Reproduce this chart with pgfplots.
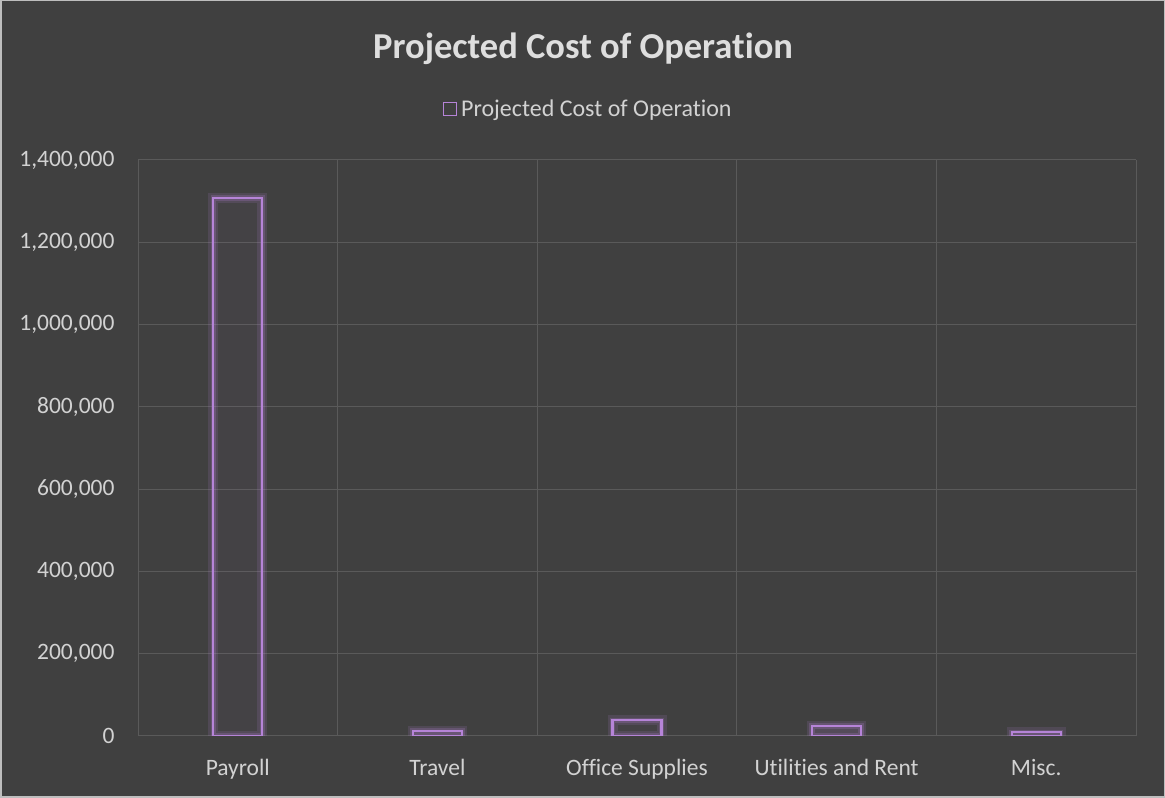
\documentclass[border=0pt]{standalone}
\usepackage{pgfplots}
\pgfplotsset{compat=1.18}
\usepackage{fontspec}
\setmainfont{Carlito}[Ligatures={NoCommon}]
\definecolor{bg}{RGB}{64,64,64}
\definecolor{gridc}{RGB}{90,90,90}
\definecolor{txt}{RGB}{210,210,210}
\definecolor{titc}{RGB}{222,222,222}
\definecolor{barc}{RGB}{182,132,216}
\definecolor{frame}{RGB}{190,190,190}
\begin{document}
\begin{tikzpicture}
\fill[bg] (0,0) rectangle (1165pt,798pt);
\draw[frame, line width=1.5pt] (0.75pt,0.75pt) rectangle (1164.25pt,797.25pt);
\useasboundingbox (0,0) rectangle (1165pt,798pt);
\begin{axis}[
  at={(138pt,62pt)}, anchor=south west,
  scale only axis, width=998pt, height=576pt,
  ymin=0, ymax=1400000,
  xmin=-0.5, xmax=4.5,
  ytick={0,200000,...,1400000},
  xtick={0,1,2,3,4},
  xticklabels={Payroll,Travel,Office Supplies,Utilities and Rent,Misc.},
  minor xtick={-0.5,0.5,1.5,2.5,3.5,4.5},
  ymajorgrids, xminorgrids,
  grid style={gridc, line width=1pt},
  minor grid style={gridc, line width=1pt},
  major tick length=0pt, minor tick length=0pt,
  axis line style={draw=none},
  scaled y ticks=false,
  /pgf/number format/.cd, fixed, 1000 sep={,}, assume math mode=true,
  /pgfplots/.cd,
  ticklabel style={font=\fontsize{23.5}{28}\selectfont, text=txt},
  yticklabel style={xshift=-20pt},
  xticklabel style={yshift=-20pt},
  title={Projected Cost of Operation},
  title style={at={(0.446,1.165)}, anchor=base, font=\fontsize{36.5}{42}\bfseries\selectfont, text=titc},
  legend style={at={(0.451,1.0885)}, anchor=center, draw=none, fill=none,
    font=\fontsize{24}{28}\selectfont, text=txt, legend columns=-1,
    /tikz/every odd column/.style={column sep=2pt}},
  ybar, bar width=49pt,
]
\addplot[forget plot, draw=barc, draw opacity=0.14, line width=10pt, fill=none]
  coordinates {(0,1308000) (1,12000) (2,38000) (3,24000) (4,9000)};
\addplot[forget plot, draw=barc, draw opacity=0.22, line width=5.5pt, fill=none]
  coordinates {(0,1308000) (1,12000) (2,38000) (3,24000) (4,9000)};
\addplot[draw=barc, line width=2.2pt, fill=barc, fill opacity=0.04,
  legend image code/.code={\draw[barc, line width=1.5pt, fill=none] (0pt,-6.5pt) rectangle (13pt,6.5pt);}]
  coordinates {(0,1308000) (1,12000) (2,38000) (3,24000) (4,9000)};
\addlegendentry{Projected Cost of Operation}
\end{axis}
\end{tikzpicture}
\end{document}
